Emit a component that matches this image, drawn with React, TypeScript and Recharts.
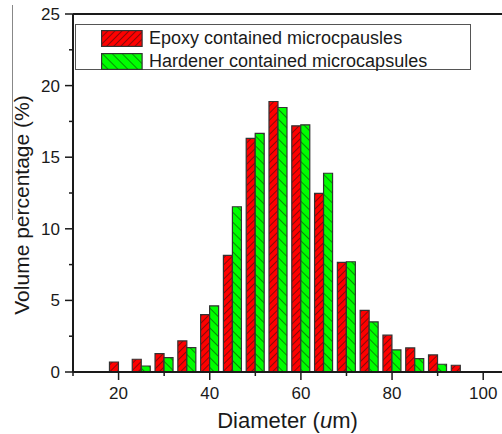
import { BarChart, Bar, XAxis, YAxis, ReferenceLine, Legend, Label } from 'recharts'

const diameters = [20, 25, 30, 35, 40, 45, 50, 55, 60, 65, 70, 75, 80, 85, 90, 95]
const epoxy = [0.7, 0.89, 1.28, 2.17, 4.01, 8.14, 16.32, 18.89, 17.19, 12.48, 7.65, 4.31, 2.57, 1.68, 1.19, 0.47]
const hardener = [0, 0.42, 1.0, 1.7, 4.62, 11.54, 16.67, 18.47, 17.26, 13.88, 7.7, 3.5, 1.54, 0.93, 0.54, 0]
const xTicks = [10, 20, 30, 40, 50, 60, 70, 80, 90, 100]
const yTicks = [0, 2.5, 5, 7.5, 10, 12.5, 15, 17.5, 20, 22.5, 25]
const seriesNames = ['Epoxy contained microcpausles', 'Hardener contained microcapsules']

const data = diameters.map((d, i) => ({ d, epoxy: epoxy[i], hardener: hardener[i] }))

const FONT = '"Liberation Sans", Arial, sans-serif'
const INK = '#1a1a1a'

// tick line + label drawn together so minor ticks can be short and unlabeled
function XTick({ x, y, payload }: any) {
  const major = payload.value % 20 === 0
  return (
    <g>
      <line x1={x} y1={y} x2={x} y2={y + (major ? 8 : 4)} stroke={INK} strokeWidth={1.5} />
      {major && (
        <text x={x} y={y + 27} textAnchor="middle" fontSize={17} fontFamily={FONT} fill={INK}>
          {payload.value}
        </text>
      )}
    </g>
  )
}

function YTick({ x, y, payload }: any) {
  const major = payload.value % 5 === 0
  return (
    <g>
      <line x1={x} y1={y} x2={x - (major ? 8 : 4)} y2={y} stroke={INK} strokeWidth={1.5} />
      {major && (
        <text x={x - 13} y={y + 6} textAnchor="end" fontSize={17} fontFamily={FONT} fill={INK}>
          {payload.value}
        </text>
      )}
    </g>
  )
}

function LegendBox() {
  const fills = ['url(#hatchRed)', 'url(#hatchGreen)']
  return (
    <div
      style={{
        width: 396,
        height: 46,
        border: '1.5px solid #555',
        background: '#fff',
        fontFamily: FONT,
        fontSize: 18,
        color: INK,
        boxSizing: 'border-box',
        paddingTop: 4,
      }}
    >
      {seriesNames.map((name, i) => (
        <div key={name} style={{ display: 'flex', alignItems: 'center', height: 19, marginBottom: 4 }}>
          <svg width={42} height={17} style={{ marginLeft: 25, marginRight: 6 }}>
            <rect x={0.6} y={0.6} width={40.5} height={15.8} fill={fills[i]} stroke="#333" strokeWidth={1.2} />
          </svg>
          <span style={{ lineHeight: '19px' }}>{name}</span>
        </div>
      ))}
    </div>
  )
}

export default function App() {
  return (
    <div style={{ position: 'fixed', left: 0, top: 0, width: 502, height: 434, overflow: 'hidden', background: '#fff' }}>
      <svg width={0} height={0} style={{ position: 'absolute' }}>
        <defs>
          <pattern id="hatchRed" patternUnits="userSpaceOnUse" width={5} height={5} patternTransform="rotate(45)">
            <rect width={5} height={5} fill="#ff0000" />
            <line x1={0} y1={0} x2={0} y2={5} stroke="#111" strokeWidth={1} />
          </pattern>
          <pattern id="hatchGreen" patternUnits="userSpaceOnUse" width={7} height={7} patternTransform="rotate(-45)">
            <rect width={7} height={7} fill="#00ff00" />
            <line x1={0} y1={0} x2={0} y2={7} stroke="#111" strokeWidth={1} />
          </pattern>
        </defs>
      </svg>
      <div style={{ position: 'absolute', left: 12, top: 5, width: 1, height: 215, background: '#888' }} />
      <BarChart
        width={512}
        height={434}
        data={data}
        margin={{ top: 14, right: 6, left: 0, bottom: 0 }}
        barGap={0}
        barCategoryGap="10%"
      >
        <XAxis
          dataKey="d"
          type="number"
          domain={[10, 105]}
          ticks={xTicks}
          interval={0}
          height={62}
          tickSize={0}
          tickMargin={0}
          tickLine={false}
          tick={<XTick />}
          axisLine={{ stroke: INK, strokeWidth: 2 }}
        >
          <Label
            content={({ viewBox }: any) => (
              <text
                x={viewBox.x + 214.5}
                y={viewBox.y + 56}
                textAnchor="middle"
                fontSize={22}
                fontFamily={FONT}
                fill={INK}
              >
                Diameter (<tspan fontStyle="italic">u</tspan>m)
              </text>
            )}
          />
        </XAxis>
        <YAxis
          type="number"
          domain={[0, 25]}
          ticks={yTicks}
          interval={0}
          width={73}
          tickSize={0}
          tickMargin={0}
          tickLine={false}
          tick={<YTick />}
          axisLine={{ stroke: INK, strokeWidth: 2 }}
        >
          <Label
            content={({ viewBox }: any) => {
              const cx = viewBox.x + 21
              const cy = viewBox.y + viewBox.height / 2 + 12
              return (
                <text
                  x={cx}
                  y={cy}
                  transform={`rotate(-90 ${cx} ${cy})`}
                  textAnchor="middle"
                  dominantBaseline="central"
                  fontSize={21}
                  fontFamily={FONT}
                  fill={INK}
                >
                  Volume percentage (%)
                </text>
              )
            }}
          />
        </YAxis>
        <ReferenceLine y={25} stroke={INK} strokeWidth={2} />
        <Legend
          layout="horizontal"
          verticalAlign="middle"
          align="center"
          content={() => <LegendBox />}
          wrapperStyle={{ left: 75, top: 24, width: 398, height: 48 }}
        />
        <Bar dataKey="epoxy" fill="url(#hatchRed)" stroke="#333" strokeWidth={1.2} isAnimationActive={false} />
        <Bar dataKey="hardener" fill="url(#hatchGreen)" stroke="#333" strokeWidth={1.2} isAnimationActive={false} />
      </BarChart>
    </div>
  )
}
